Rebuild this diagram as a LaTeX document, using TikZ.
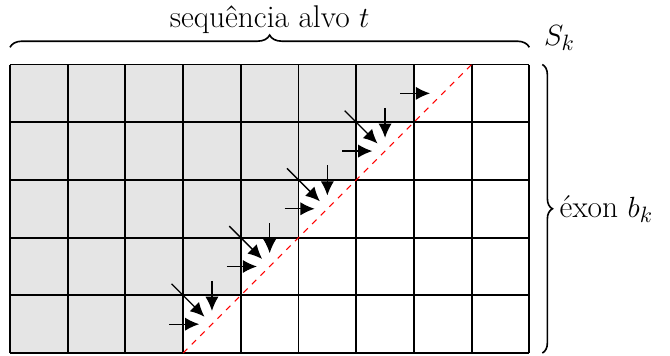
\documentclass[tikz,border=0pt]{standalone}
\usepackage{fontspec}
\usetikzlibrary{arrows.meta,decorations.pathreplacing}
\begin{document}
\begin{tikzpicture}[x=1cm,y=1cm,
  gridline/.style={line width=0.9pt, black},
  shadecell/.style={fill=gray!20},
  arr/.style={line width=0.65pt, -{Latex[length=7pt,width=6.5pt]}},
  diagline/.style={red, dashed, line width=0.6pt},
  brc/.style={decorate, thick, decoration={brace, amplitude=#1}},
  lbl/.style={font=\fontsize{15.5}{18}\selectfont}]
\useasboundingbox (-0.173,-0.035) rectangle (11.438,6.118);
\foreach \r in {0,...,4} {
  \pgfmathtruncatemacro\n{7-\r}
  \fill[shadecell] (0,4-\r) rectangle (\n,5-\r);
}
\draw[gridline] (0,0) grid (9,5);
\draw[diagline] (3,0) -- (8,5);
\foreach \r in {0,...,4} {
  \pgfmathtruncatemacro\c{7-\r}
  \pgfmathtruncatemacro\t{5-\r}
  \draw[arr] (\c-0.24,\t-0.5) -- (\c+0.28,\t-0.5);
  \ifnum\r>0
    \draw[arr] (\c+0.5,\t+0.25) -- (\c+0.5,\t-0.27);
    \draw[arr] (\c-0.2,\t+0.2) -- (\c+0.37,\t-0.37);
  \fi
}
\draw[brc=6pt, decoration={raise=8.5pt}] (0,5) -- (9,5);
\draw[brc=5pt, decoration={raise=6.4pt}] (9,5) -- (9,0);
\node[lbl, anchor=base] (tgt) at (4.5,5.633) {sequência alvo $t$};
\node[lbl, anchor=base west, inner sep=0pt] (sk) at (9.25,5.338) {$S_k$};
\node[lbl, anchor=west, inner sep=0pt] (exon) at (9.52,2.5) {éxon $b_k$};
\end{tikzpicture}
\end{document}
